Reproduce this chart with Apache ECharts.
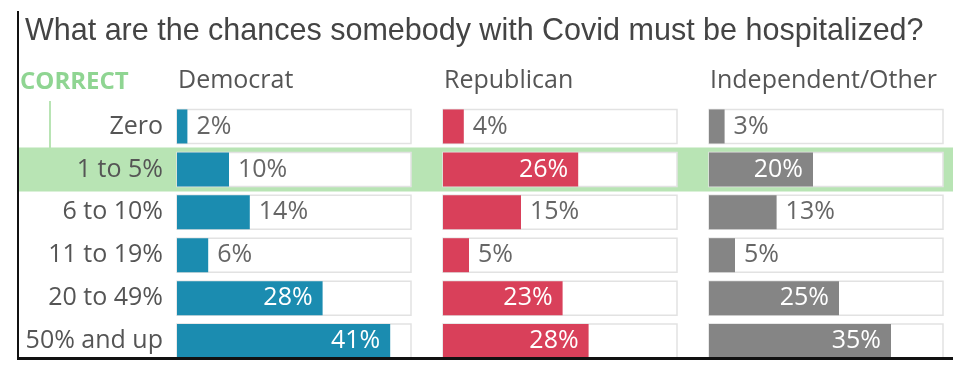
<!DOCTYPE html>
<html>
<head>
<meta charset="utf-8">
<script src="https://cdn.jsdelivr.net/npm/echarts@6/dist/echarts.min.js"></script>
<style>
html,body{margin:0;padding:0;background:#fff;}
#chart{width:964px;height:379px;}
</style>
</head>
<body>
<div id="chart"></div>
<script>
const titleText = 'What are the chances somebody with Covid must be hospitalized?';
const categories = ['Zero', '1 to 5%', '6 to 10%', '11 to 19%', '20 to 49%', '50% and up'];
const groups = ['Democrat', 'Republican', 'Independent/Other'];
const democrat = [2, 10, 14, 6, 28, 41];
const republican = [4, 26, 15, 5, 23, 28];
const independent = [3, 20, 13, 5, 25, 35];
const correctIndex = 1;
const correctLabel = 'CORRECT';

const colors = ['#1b8cb0', '#d9405a', '#858585'];
const seriesValues = [democrat, republican, independent];
const gridLefts = [177, 443, 709];
const gridWidth = 234;
const FONT = 'Open Sans';

const chart = echarts.init(document.getElementById('chart'), null, {renderer: 'canvas'});

function item(v) {
  return v >= 20
    ? {value: v, label: {position: 'insideRight', color: '#fff', distance: 10}}
    : {value: v, label: {position: 'right', color: '#666', distance: 9}};
}

const grids = [{left: 18, width: 935, top: 105, bottom: 16.5}];
const xAxes = [{gridIndex: 0, type: 'value', min: 0, max: 1, show: false}];
const yAxes = [{gridIndex: 0, type: 'category', data: categories, inverse: true, show: false}];
const series = [{
  type: 'bar', xAxisIndex: 0, yAxisIndex: 0, z: 0, zlevel: 0, silent: true,
  barWidth: 44,
  itemStyle: {color: '#b8e4b4'},
  data: categories.map((c, i) => i === correctIndex ? 1 : null)
}];

groups.forEach((g, gi) => {
  const idx = gi + 1;
  grids.push({left: gridLefts[gi], width: gridWidth, top: 105, bottom: 16.5});
  xAxes.push({gridIndex: idx, type: 'value', min: 0, max: 45, show: false});
  yAxes.push({
    gridIndex: idx, type: 'category', data: categories, inverse: true, z: 5,
    axisLine: {show: false}, axisTick: {show: false}, splitLine: {show: false},
    axisLabel: {
      show: gi === 0, margin: 14, color: '#555',
      fontFamily: FONT, fontSize: 25
    }
  });
  series.push({
    type: 'bar', name: g, xAxisIndex: idx, yAxisIndex: idx, z: 3,
    barWidth: 34,
    showBackground: true,
    backgroundStyle: {color: '#fff', borderColor: '#e2e2e2', borderWidth: 1.5},
    itemStyle: {color: colors[gi]},
    label: {show: true, formatter: '{c}%', fontFamily: FONT, fontSize: 25},
    data: seriesValues[gi].map(item)
  });
});

const graphics = [
  {type: 'text', left: 20, top: 70, style: {text: correctLabel, fill: '#8fd592', font: 'bold 24px "Open Sans"'}},
  {type: 'rect', shape: {x: 49, y: 101, width: 2, height: 47}, style: {fill: '#b8e4b4'}, z: 1},
  {type: 'rect', shape: {x: 17, y: 11, width: 2, height: 349}, style: {fill: '#111'}, z: 10},
  {type: 'rect', shape: {x: 17, y: 357, width: 936, height: 3}, style: {fill: '#111'}, z: 10}
];
groups.forEach((g, gi) => {
  graphics.push({type: 'text', left: gridLefts[gi] + 1, top: 68,
    style: {text: g, fill: '#555', font: '25px "Open Sans"'}});
});

chart.setOption({
  backgroundColor: '#fff',
  animation: false,
  title: {
    text: titleText, left: 20, top: 11,
    textStyle: {fontFamily: 'Liberation Sans', fontSize: 30.5, fontWeight: 'normal', color: '#444'}
  },
  grid: grids, xAxis: xAxes, yAxis: yAxes, series: series,
  graphic: graphics
});
</script>
</body>
</html>
